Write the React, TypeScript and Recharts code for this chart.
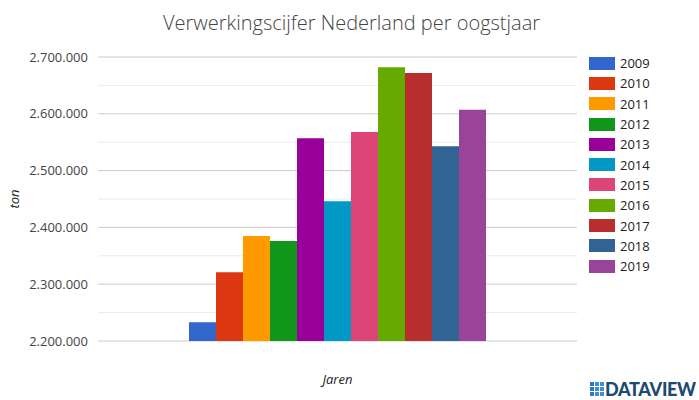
import { BarChart, Bar, XAxis, YAxis, CartesianGrid } from "recharts";

const years = ["2009", "2010", "2011", "2012", "2013", "2014", "2015", "2016", "2017", "2018", "2019"];
const tonnage = [2233000, 2321000, 2385000, 2376000, 2557000, 2446000, 2568000, 2682000, 2672000, 2543000, 2607000];
const colors = ["#3366cc", "#dc3912", "#ff9900", "#109618", "#990099", "#0099c6", "#dd4477", "#66aa00", "#b82e2e", "#316395", "#994499"];
const yTicks = [2200000, 2300000, 2400000, 2500000, 2600000, 2700000];
const minorTicks = [2250000, 2350000, 2450000, 2550000, 2650000];

const row: Record<string, string | number> = { name: "" };
years.forEach((y, i) => {
  row[y] = tonnage[i];
});
const data = [row];

const fmt = (v: number) => String(v).replace(/\B(?=(\d{3})+(?!\d))/g, ".");

const font = "'Open Sans', sans-serif";

const LegendList = () => (
  <div style={{ position: "absolute", left: 589, top: 53, fontFamily: font, fontSize: 13, color: "#222" }}>
    {years.map((y, i) => (
      <div key={y} style={{ display: "flex", alignItems: "center", height: 20.3 }}>
        <span style={{ width: 26, height: 13, background: colors[i], marginRight: 5 }} />
        <span>{y}</span>
      </div>
    ))}
  </div>
);

const App = () => {
  return (
    <div style={{ position: "absolute", left: 0, top: 0, width: 699, height: 400, background: "#fff" }}>
      <div
        style={{
          position: "absolute",
          top: 9,
          left: 0,
          width: 699,
          textAlign: "center",
          fontFamily: font,
          fontWeight: 300,
          fontSize: 20,
          color: "#444",
          paddingLeft: 2,
        }}
      >
        Verwerkingscijfer Nederland per oogstjaar
      </div>
      <BarChart
        width={699}
        height={400}
        data={data}
        margin={{ top: 57, right: 122, bottom: 0, left: 0 }}
        barCategoryGap="19%"
        barGap={0}
      >
        <CartesianGrid horizontalValues={minorTicks} vertical={false} stroke="#ebebeb" strokeWidth={1} />
        <CartesianGrid vertical={false} stroke="#cccccc" strokeWidth={1} />
        <XAxis
          dataKey="name"
          tick={false}
          tickLine={false}
          axisLine={false}
          height={59}
          label={{ value: "Jaren", position: "insideTop", offset: 34, fill: "#222", fontStyle: "italic", fontSize: 13, fontFamily: font }}
        />
        <YAxis
          width={98}
          domain={[2200000, 2700000]}
          ticks={yTicks}
          allowDataOverflow
          tickFormatter={fmt}
          tickLine={false}
          axisLine={false}
          tickMargin={4}
          tick={{ fill: "#444", fontSize: 13, fontFamily: font }}
          label={{ value: "ton", angle: -90, position: "center", dx: -35, fill: "#222", fontStyle: "italic", fontSize: 13, fontFamily: font }}
        />
        {years.map((y, i) => (
          <Bar key={y} dataKey={y} fill={colors[i]} isAnimationActive={false} />
        ))}
      </BarChart>
      <LegendList />
      <div
        style={{
          position: "absolute",
          left: 590,
          top: 378,
          display: "flex",
          alignItems: "center",
          fontFamily: "Lato, sans-serif",
          fontWeight: 900,
          fontSize: 18,
          color: "#1d4a73",
          letterSpacing: -0.3,
        }}
      >
        <svg width={14} height={14} style={{ marginRight: 1 }}>
          {[0, 1, 2].map((r) =>
            [0, 1, 2].map((c) => (
              <rect key={`${r}-${c}`} x={c * 5} y={r * 5} width={4} height={4} fill={c === 0 ? "#2f78bf" : "#3d8fd6"} />
            ))
          )}
        </svg>
        DATAVIEW
      </div>
    </div>
  );
};

export default App;
